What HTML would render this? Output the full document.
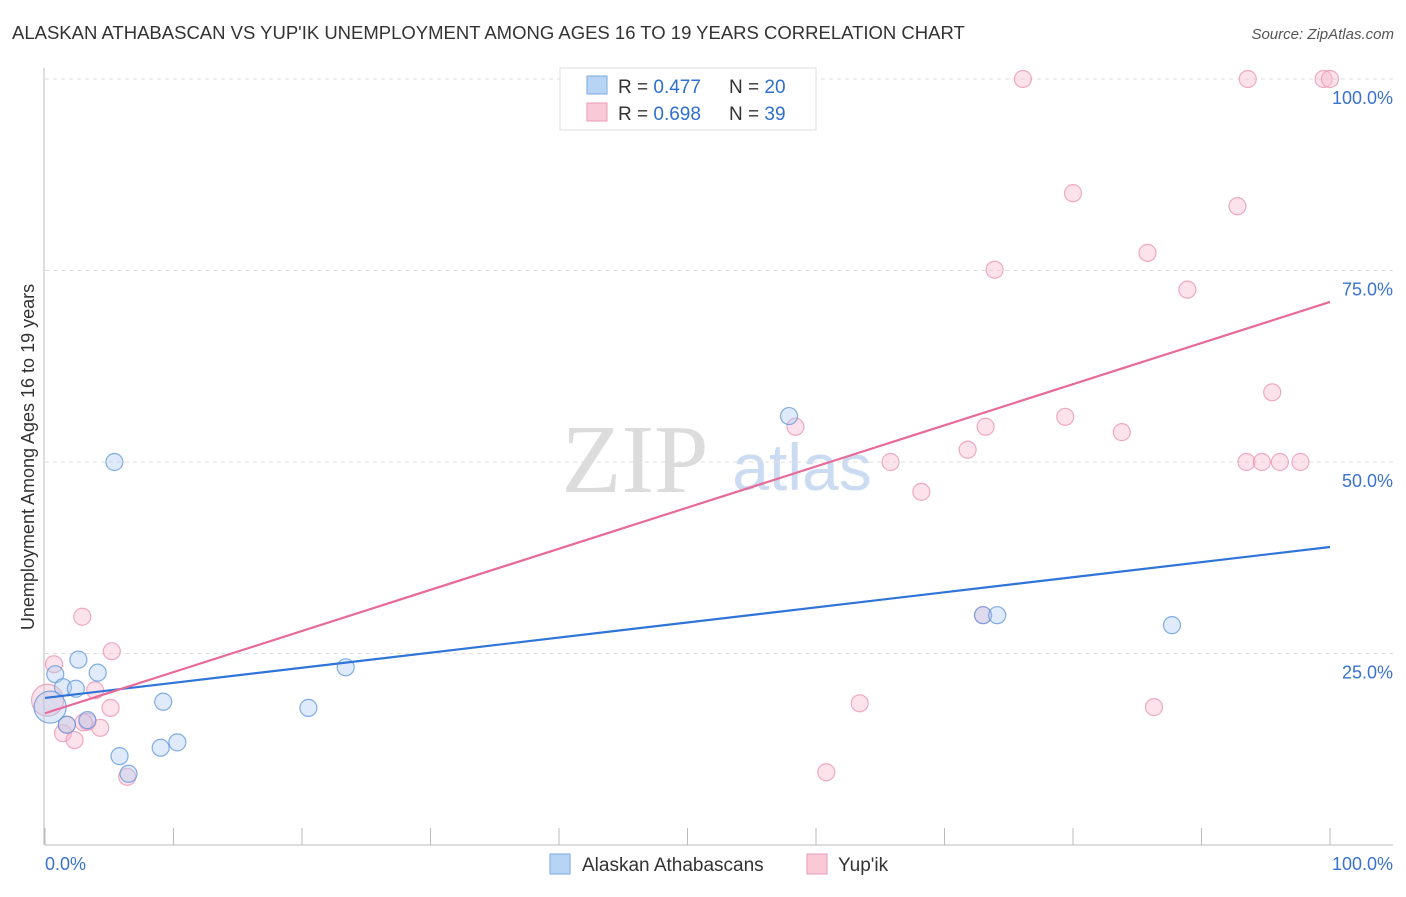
<!DOCTYPE html>
<html><head><meta charset="utf-8"><style>
body{margin:0;background:#fff;font-family:"Liberation Sans",sans-serif;}
svg text{font-family:"Liberation Sans",sans-serif;}
svg text.serif{font-family:"Liberation Serif",serif;}
</style></head><body>
<svg id="c" width="1406" height="892" xmlns="http://www.w3.org/2000/svg">
<text x="12" y="39" font-size="18.5" fill="#333">ALASKAN ATHABASCAN VS YUP'IK UNEMPLOYMENT AMONG AGES 16 TO 19 YEARS CORRELATION CHART</text>
<text x="1394" y="39" font-size="15" fill="#555" font-style="italic" text-anchor="end">Source: ZipAtlas.com</text>
<text class="serif" x="635" y="492" font-size="98" fill="#dcdcdc" text-anchor="middle">ZIP</text>
<text x="802" y="490" font-size="66" fill="#cbdcf2" text-anchor="middle">atlas</text>
<text transform="translate(34,457) rotate(-90)" font-size="18" fill="#333" text-anchor="middle">Unemployment Among Ages 16 to 19 years</text>
<g id="grid"></g><g id="marks"></g>
<g>
<rect x="560" y="68" width="256" height="62" fill="#fff" stroke="#ddd"/>
<rect x="587" y="76" width="20" height="18" fill="#b8d4f5" stroke="#7aa8e0"/>
<rect x="587" y="103" width="20" height="18" fill="#f9c9d8" stroke="#eb9ab5"/>
<text x="618" y="93" font-size="19" fill="#333">R = <tspan fill="#2f6fd0">0.477</tspan></text>
<text x="729" y="93" font-size="19" fill="#333">N = <tspan fill="#2f6fd0">20</tspan></text>
<text x="618" y="120" font-size="19" fill="#333">R = <tspan fill="#2f6fd0">0.698</tspan></text>
<text x="729" y="120" font-size="19" fill="#333">N = <tspan fill="#2f6fd0">39</tspan></text>
</g>
<g>
<rect x="550" y="854" width="20" height="20" fill="#b8d4f5" stroke="#7aa8e0"/>
<text x="582" y="871" font-size="19" fill="#333">Alaskan Athabascans</text>
<rect x="807" y="854" width="20" height="20" fill="#f9c9d8" stroke="#eb9ab5"/>
<text x="838" y="871" font-size="19" fill="#333">Yup'ik</text>
</g>
</svg>
<script>
const yTicks=[25,50,75,100];
const yTickLabels=["25.0%","50.0%","75.0%","100.0%"];
const xTickLabels=["0.0%","100.0%"];
const blueX=[5.4,57.9,73.0,74.1,87.7,2.6,4.1,0.8,1.4,2.4,1.7,3.3,9.2,5.8,9.0,10.3,6.5,20.5,23.4,0.4];
const blueY=[50.0,56.0,30.0,30.0,28.7,24.2,22.5,22.3,20.6,20.4,15.7,16.3,18.7,11.6,12.7,13.4,9.3,17.9,23.2,18.0];
const pinkX=[2.9,5.2,0.7,3.9,5.1,1.4,2.3,1.7,3.3,4.3,6.4,76.1,93.6,99.5,100,80.0,92.8,73.9,85.8,88.9,95.5,58.4,79.4,73.2,83.8,71.8,65.8,93.5,94.7,96.1,97.7,68.2,63.4,86.3,60.8,73.0,0.2,3.0];
const pinkY=[29.8,25.3,23.6,20.2,17.9,14.6,13.7,15.7,16.1,15.3,8.9,100,100,100,100,85.1,83.4,75.1,77.3,72.5,59.1,54.6,55.9,54.6,53.9,51.6,50,50,50,50,50,46.1,18.5,18.0,9.5,30.0,18.9,16.0];
const blueLine=[19.2,38.9];
const pinkLine=[17.2,70.9];
const X=v=>45+v*12.85, Y=v=>845-v*7.66;
const NS="http://www.w3.org/2000/svg";
const grid=document.getElementById('grid'), marks=document.getElementById('marks');
function mk(p,tag,a){const e=document.createElementNS(NS,tag);for(const k in a)e.setAttribute(k,a[k]);p.appendChild(e);return e;}
yTicks.forEach((t,i)=>{
 const l=mk(grid,'line',{x1:45,x2:1393,y1:Y(t),y2:Y(t),stroke:'#ddd','stroke-dasharray':'4,4'});
 
 
 const tx=mk(grid,'text',{x:1393,y:Y(t)+25,'font-size':18,fill:'#3a72d0','text-anchor':'end'});
 tx.textContent=yTickLabels[i];
 
 
});
const ax=mk(grid,'line',{x1:45,x2:1393,y1:845,y2:845,stroke:'#bbb'});


const ay=mk(grid,'line',{x1:44,x2:44,y1:68,y2:845,stroke:'#bbb'});


for(let i=0;i<=10;i++){
 const t=mk(grid,'line',{x1:X(i*10),x2:X(i*10),y1:828,y2:845,stroke:'#bbb'});
 
 
}
[[0,'start',45],[100,'end',1393]].forEach((d,i)=>{
 const tx=mk(grid,'text',{x:d[2],y:870,'font-size':18,fill:'#3a72d0','text-anchor':d[1]});
 tx.textContent=xTickLabels[i];
 
 
});
function pts(xs,ys,fill,stroke,name){
 xs.forEach((x,i)=>{
  const big=(x<0.5&&ys[i]>17&&ys[i]<20);
  const c=mk(marks,'circle',{cx:X(x),cy:Y(ys[i]),r:big?16:8.5,fill:fill,'fill-opacity':0.4,stroke:stroke,'stroke-opacity':0.75,'stroke-width':1.2});
  
  
 });
}
pts(pinkX,pinkY,'#f7b8cc','#eb8fb0','yupik-point');
pts(blueX,blueY,'#b0cdf2','#5b93dc','athabascan-point');
const bl=mk(marks,'line',{x1:X(0),y1:Y(blueLine[0]),x2:X(100),y2:Y(blueLine[1]),stroke:'#2f74d8','stroke-width':2.2});


const pl=mk(marks,'line',{x1:X(0),y1:Y(pinkLine[0]),x2:X(100),y2:Y(pinkLine[1]),stroke:'#e86a98','stroke-width':2.2});


</script>
</body></html>
